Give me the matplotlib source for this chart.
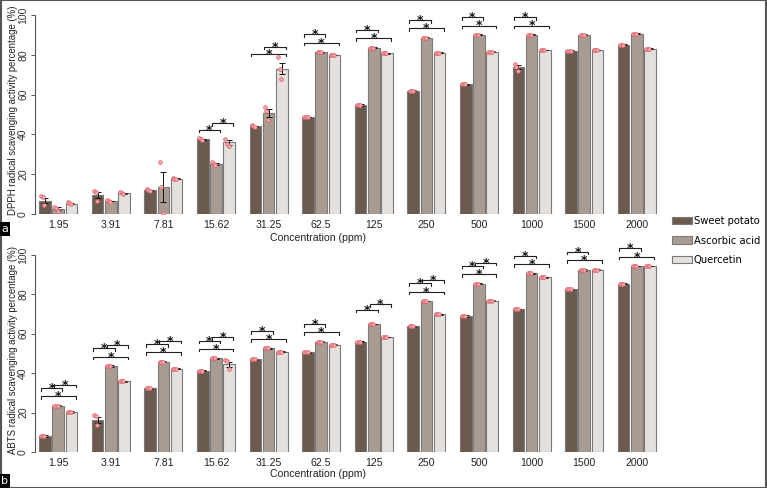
import matplotlib
matplotlib.use("Agg")
import matplotlib.pyplot as plt
from matplotlib.patches import Rectangle, Patch
import numpy as np

concentrations = ["1.95", "3.91", "7.81", "15.62", "31.25", "62.5", "125", "250", "500", "1000", "1500", "2000"]
series_names = ["Sweet potato", "Ascorbic acid", "Quercetin"]

# DPPH (panel a)
dpph_sp = [6.7, 9.7, 11.9, 37.6, 44.1, 48.7, 54.8, 62.0, 65.2, 73.9, 82.1, 85.0]
dpph_aa = [2.7, 6.5, 13.4, 25.1, 50.7, 81.3, 83.6, 88.6, 90.0, 90.0, 90.0, 90.5]
dpph_q = [5.2, 10.5, 17.7, 36.0, 73.1, 79.9, 80.8, 81.0, 81.6, 82.4, 82.4, 83.1]
dpph_sp_err = [1.3, 1.5, 0.3, 0.3, 0.3, 0.2, 0.3, 0.3, 0.3, 1.0, 0.3, 0.3]
dpph_aa_err = [0.6, 0.2, 7.5, 0.3, 2.0, 0.2, 0.2, 0.2, 0.2, 0.2, 0.2, 0.2]
dpph_q_err = [0.4, 0.3, 0.2, 1.2, 3.0, 0.2, 0.2, 0.3, 0.2, 0.2, 0.2, 0.2]
dpph_points = {
    (0, 0): [9.2, 8.5, 4.3], (0, 1): [3.5, 3.0, 1.5], (0, 2): [6.0, 5.5, 4.8],
    (1, 0): [11.7, 10.9, 6.7], (1, 1): [6.8, 6.5, 6.2], (1, 2): [11.0, 10.5, 10.2],
    (2, 0): [12.5, 12.0, 11.5], (2, 1): [26.0, 13.5, 0.5], (2, 2): [18.0, 17.8, 17.6],
    (3, 0): [38.0, 37.5, 37.2], (3, 1): [26.0, 25.0, 24.5], (3, 2): [37.5, 35.0, 34.0],
    (4, 0): [44.5, 44.0, 43.6], (4, 1): [54.0, 51.5, 47.0], (4, 2): [79.0, 73.0, 67.7],
    (9, 0): [75.4, 74.0, 71.9],
}
# (group, bar i, bar j, level)
dpph_sig = [(3, 0, 1, 0), (3, 1, 2, 0.8),
            (4, 0, 2, 0), (4, 1, 2, 0.8),
            (5, 0, 2, 0), (5, 0, 1, 1),
            (6, 0, 2, 0), (6, 0, 1, 1),
            (7, 0, 2, 0), (7, 0, 1, 1),
            (8, 0, 2, 0), (8, 0, 1, 1),
            (9, 0, 2, 0), (9, 0, 1, 1)]

# ABTS (panel b)
abts_sp = [8.1, 16.1, 32.3, 41.3, 47.0, 50.5, 56.0, 63.7, 69.0, 72.5, 82.5, 85.4]
abts_aa = [23.4, 43.6, 45.8, 47.6, 52.6, 56.0, 65.0, 76.6, 85.4, 90.7, 92.4, 94.4]
abts_q = [20.2, 35.9, 42.3, 44.4, 50.8, 54.5, 58.3, 69.8, 76.8, 88.6, 92.4, 94.4]
abts_sp_err = [0.3, 1.5, 0.4, 0.2, 0.3, 0.3, 0.3, 0.4, 0.3, 0.2, 0.2, 0.3]
abts_aa_err = [0.3, 0.3, 0.3, 0.2, 0.1, 0.2, 0.1, 0.2, 0.3, 0.2, 0.4, 0.2]
abts_q_err = [0.4, 0.2, 0.2, 1.5, 0.3, 0.3, 0.1, 0.1, 0.2, 0.2, 0.2, 0.2]
abts_points = {
    (1, 0): [18.6, 18.3, 13.9],
    (3, 2): [46.6, 46.4, 42.2],
}
abts_sig = [(0, 0, 2, 0), (0, 0, 1, 1), (0, 1, 2, 1.4),
            (1, 0, 2, 0), (1, 0, 1, 1), (1, 1, 2, 1.4),
            (2, 0, 2, 0), (2, 0, 1, 1), (2, 1, 2, 1.4),
            (3, 0, 2, 0), (3, 0, 1, 1), (3, 1, 2, 1.4),
            (4, 0, 2, 0), (4, 0, 1, 1),
            (5, 0, 2, 0), (5, 0, 1, 1),
            (6, 0, 1, 0.6), (6, 1, 2, 1.3),
            (7, 0, 2, 0), (7, 0, 1, 1), (7, 1, 2, 1.4),
            (8, 0, 2, 0), (8, 0, 1, 1), (8, 1, 2, 1.4),
            (9, 0, 2, 0), (9, 0, 1, 1),
            (10, 0, 2, 0), (10, 0, 1, 1),
            (11, 0, 2, 0), (11, 0, 1, 1)]

colors = ["#6b5a4e", "#a89b92", "#e4e0dd"]
edge = "#7a7a7a"
TICKFONT = "Liberation Sans"

W, H = 767, 488
fig = plt.figure(figsize=(W / 100, H / 100), dpi=100)


def px_axes(left, bottom_px, right, top_px):
    return fig.add_axes([left / W, 1 - bottom_px / H, (right - left) / W, (bottom_px - top_px) / H])


def draw_panel(ax, means, errs, points, sigs, ylabel, xlabel_y):
    n = len(concentrations)
    x = np.arange(n)
    offs = [-0.25, 0.0, 0.25]
    bw = 0.22
    for s in range(3):
        ax.bar(x + offs[s], means[s], width=bw, color=colors[s], edgecolor=edge, linewidth=0.8, zorder=2)
        ax.errorbar(x + offs[s], means[s], yerr=errs[s], fmt="none", ecolor="#111111",
                    elinewidth=0.7, capsize=2.2, capthick=0.7, zorder=3)
        for g in range(n):
            vals = points.get((g, s), [means[s][g]] * 3)
            for k, v in enumerate(vals):
                ax.plot(x[g] + offs[s] - 0.07 + 0.03 * k, v, "o", ms=2.6, mfc="#f6b3b3",
                        mec="#e0606a", mew=0.6, zorder=4)
    for (g, i, j, lev) in sigs:
        top = max(means[s][g] + errs[s][g] for s in range(3))
        y = top + 4.5 + 4.2 * lev
        x1, x2 = x[g] + offs[i] - 0.08, x[g] + offs[j] + 0.08
        ax.plot([x1, x1, x2, x2], [y - 1.3, y, y, y - 1.3], color="#222222", lw=0.8,
                zorder=5, clip_on=False)
        ax.text((x1 + x2) / 2, y - 2.0, "*", ha="center", va="baseline", fontsize=9,
                fontweight="bold", color="#111111", zorder=6, clip_on=False)
    ax.set_xlim(-0.44, 11.44)
    ax.set_ylim(0, 104)
    for sp in ["top", "right", "bottom"]:
        ax.spines[sp].set_visible(False)
    ax.spines["left"].set_bounds(0, 100)
    ax.spines["left"].set_color("#555555")
    ax.spines["left"].set_linewidth(0.8)
    ax.set_yticks([0, 20, 40, 60, 80, 100])
    ax.set_yticklabels(["0", "20", "40", "60", "80", "100"], rotation=90, va="center",
                       fontsize=7.5, family=TICKFONT, color="#333333")
    ax.tick_params(axis="y", length=3, width=0.7, color="#555555", pad=2)
    ax.set_xticks(x)
    ax.set_xticklabels(concentrations, fontsize=7.6, family=TICKFONT, color="#222222")
    ax.tick_params(axis="x", length=0, pad=4)
    ax.set_ylabel(ylabel, fontsize=6.9, family=TICKFONT, color="#222222")
    ax.yaxis.set_label_coords(-0.027, 0.5)
    ax.set_xlabel("Concentration (ppm)", fontsize=7.6, family=TICKFONT, color="#222222")
    ax.xaxis.set_label_coords(0.453, xlabel_y)


ax_a = px_axes(35, 214, 660, 7)
draw_panel(ax_a, [dpph_sp, dpph_aa, dpph_q], [dpph_sp_err, dpph_aa_err, dpph_q_err],
           dpph_points, dpph_sig, "DPPH radical scavenging activity percentage (%)", -0.092)

ax_b = px_axes(35, 452, 660, 247)
draw_panel(ax_b, [abts_sp, abts_aa, abts_q], [abts_sp_err, abts_aa_err, abts_q_err],
           abts_points, abts_sig, "ABTS radical scavenging activity percentage (%)", -0.085)

handles = [Patch(facecolor=colors[s], edgecolor=edge, linewidth=0.8) for s in range(3)]
fig.legend(handles, series_names, loc="upper left", bbox_to_anchor=(672 / W, 1 - 216 / H),
           frameon=False, handlelength=2.0, handleheight=0.8,
           handletextpad=0.15, labelspacing=0.95, borderpad=0, borderaxespad=0,
           prop={"family": "DejaVu Sans", "size": 7.2})

# panel letters
fig.text(1 / W, 1 - 229 / H, "a", color="white", fontsize=8, va="center", ha="left",
         family="DejaVu Sans",
         bbox=dict(boxstyle="square,pad=0.2", fc="black", ec="none"))
fig.text(1 / W, 1 - 481 / H, "b", color="white", fontsize=8, va="center", ha="left",
         family="DejaVu Sans",
         bbox=dict(boxstyle="square,pad=0.2", fc="black", ec="none"))

fig.add_artist(Rectangle((0.001, 0.001), 0.998, 0.998, transform=fig.transFigure,
                         fill=False, edgecolor="#555555", linewidth=1.5))

fig.savefig("out.png", dpi=100)
